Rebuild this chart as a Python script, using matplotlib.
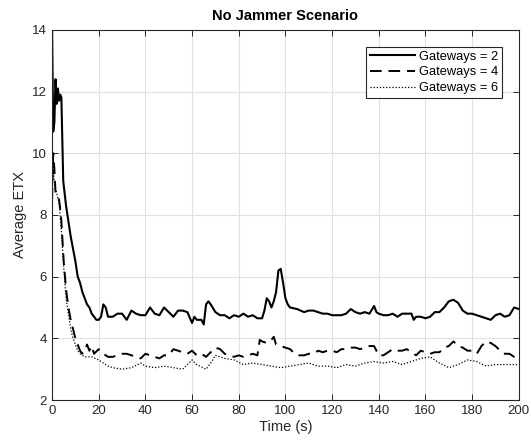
import matplotlib.pyplot as plt

plt.rcParams['font.family'] = ['Liberation Sans', 'DejaVu Sans']

# Gateways = 2 (solid)
t_gw2 = [0, 0.5, 1, 1.5, 2, 2.5, 3, 3.5, 4, 4.8, 6, 7, 8, 9, 10, 11, 12, 13, 14, 15,
         16, 17, 18, 19, 20, 21, 22, 23, 24, 26, 28, 30, 32, 34, 36, 38, 40, 42, 44,
         46, 48, 50, 52, 54, 56, 58, 60, 61, 62, 64, 65, 66, 67, 68, 70, 72, 74, 76,
         78, 80, 82, 84, 86, 88, 90, 91, 92, 93, 94, 95, 96, 97, 98, 99, 100, 101,
         102, 105, 108, 110, 112, 114, 116, 118, 120, 122, 124, 126, 128, 130, 132,
         134, 136, 138, 139, 140, 142, 144, 146, 148, 150, 152, 154, 155, 156, 158,
         160, 162, 164, 166, 168, 170, 172, 174, 176, 178, 180, 182, 184, 186, 188,
         190, 192, 194, 196, 198, 200]
etx_gw2 = [14.2, 10.7, 11.0, 12.4, 11.6, 12.1, 11.7, 11.9, 11.8, 9.1, 8.3, 7.8, 7.3,
           6.9, 6.5, 6.0, 5.8, 5.5, 5.3, 5.1, 5.0, 4.8, 4.7, 4.6, 4.6, 4.7, 5.1, 5.0,
           4.7, 4.7, 4.8, 4.8, 4.6, 4.9, 4.8, 4.75, 4.75, 5.0, 4.8, 4.75, 5.0, 4.85,
           4.7, 4.9, 4.9, 4.85, 4.5, 4.7, 4.6, 4.6, 4.45, 5.1, 5.2, 5.1, 4.85, 4.75,
           4.75, 4.65, 4.75, 4.7, 4.8, 4.7, 4.75, 4.65, 4.65, 4.9, 5.3, 5.2, 5.0,
           5.2, 5.5, 6.2, 6.25, 5.8, 5.3, 5.1, 5.0, 4.95, 4.85, 4.9, 4.9, 4.85, 4.8,
           4.8, 4.75, 4.75, 4.75, 4.8, 4.95, 4.85, 4.8, 4.85, 4.8, 5.05, 4.85, 4.8,
           4.75, 4.75, 4.8, 4.7, 4.8, 4.8, 4.8, 4.6, 4.7, 4.7, 4.65, 4.7, 4.85, 4.85,
           5.0, 5.2, 5.25, 5.15, 4.9, 4.8, 4.8, 4.75, 4.7, 4.65, 4.6, 4.75, 4.8, 4.7,
           4.75, 5.0, 4.95]

# Gateways = 4 (dashed)
t_gw4 = [0, 0.5, 1, 1.5, 2, 3, 3.5, 4, 5, 6, 7, 8, 9, 10, 11, 12, 13, 14, 15, 16,
         17, 18, 20, 22, 24, 26, 28, 30, 32, 34, 36, 38, 40, 42, 44, 46, 48, 50, 52,
         54, 56, 58, 60, 62, 64, 66, 68, 70, 72, 74, 76, 78, 80, 82, 84, 86, 88, 89,
         90, 92, 94, 95, 96, 98, 100, 102, 104, 106, 108, 110, 112, 114, 116, 118,
         120, 122, 124, 126, 128, 130, 132, 134, 136, 138, 140, 142, 144, 146, 148,
         150, 152, 154, 156, 158, 160, 162, 164, 166, 168, 170, 172, 174, 176, 178,
         180, 182, 184, 186, 188, 190, 192, 194, 196, 198, 200]
etx_gw4 = [8.5, 10.0, 9.5, 8.7, 8.6, 8.5, 8.2, 7.8, 6.5, 5.6, 5.0, 4.6, 4.3, 4.0, 3.8,
           3.6, 3.5, 3.6, 3.8, 3.6, 3.75, 3.5, 3.65, 3.5, 3.4, 3.4, 3.45, 3.5, 3.5,
           3.45, 3.4, 3.35, 3.5, 3.45, 3.4, 3.35, 3.45, 3.45, 3.65, 3.6, 3.55, 3.5,
           3.6, 3.45, 3.5, 3.4, 3.55, 3.7, 3.65, 3.5, 3.45, 3.4, 3.45, 3.4, 3.45, 3.5,
           3.45, 3.95, 3.9, 3.85, 3.95, 4.05, 3.8, 3.75, 3.7, 3.65, 3.5, 3.45, 3.45,
           3.5, 3.5, 3.6, 3.55, 3.6, 3.6, 3.55, 3.65, 3.65, 3.7, 3.7, 3.65, 3.7,
           3.75, 3.75, 3.45, 3.45, 3.55, 3.65, 3.6, 3.6, 3.65, 3.55, 3.45, 3.6, 3.55,
           3.5, 3.55, 3.55, 3.7, 3.75, 3.9, 3.75, 3.7, 3.6, 3.6, 3.5, 3.75, 3.9,
           3.85, 3.75, 3.6, 3.5, 3.5, 3.4, 3.4]

# Gateways = 6 (dotted)
t_gw6 = [0, 0.5, 1, 2, 3, 4, 5, 6, 7, 8, 9, 10, 11, 12, 13, 14, 15, 17, 20, 22, 24,
         26, 30, 34, 38, 40, 44, 48, 52, 56, 60, 62, 66, 68, 70, 74, 78, 82, 86, 90,
         94, 98, 102, 106, 110, 114, 118, 122, 126, 130, 134, 138, 142, 146, 150,
         154, 158, 162, 166, 170, 174, 178, 182, 186, 190, 194, 198, 200]
etx_gw6 = [8.6, 9.8, 9.0, 8.7, 8.4, 7.5, 6.3, 5.3, 4.8, 4.3, 4.0, 3.8, 3.6, 3.5,
           3.45, 3.4, 3.4, 3.4, 3.3, 3.2, 3.1, 3.05, 3.0, 3.05, 3.2, 3.1, 3.05, 3.1,
           3.05, 3.0, 3.3, 3.15, 3.0, 3.2, 3.45, 3.35, 3.3, 3.15, 3.2, 3.15, 3.1,
           3.05, 3.1, 3.15, 3.2, 3.1, 3.1, 3.05, 3.15, 3.1, 3.2, 3.25, 3.2, 3.25,
           3.15, 3.25, 3.35, 3.4, 3.2, 3.05, 3.15, 3.3, 3.25, 3.1, 3.15, 3.15, 3.15,
           3.15]

fig = plt.figure(figsize=(5.31, 4.45), dpi=100)
ax = fig.add_axes([0.098, 0.101, 0.879, 0.832])

ax.plot(t_gw2, etx_gw2, color='black', linestyle='-', linewidth=1.5, label='Gateways = 2')
ax.plot(t_gw4, etx_gw4, color='black', linestyle=(0, (6, 3.5)), linewidth=1.4, label='Gateways = 4')
ax.plot(t_gw6, etx_gw6, color='black', linestyle=(0, (1, 1.5)), linewidth=0.9, label='Gateways = 6')

ax.set_xlim(0, 200)
ax.set_ylim(2, 14)
ax.set_xticks(range(0, 201, 20))
ax.set_yticks(range(2, 15, 2))
ax.grid(True, color='#e0e0e0', linewidth=0.8)
ax.set_axisbelow(True)
ax.tick_params(direction='in', top=True, right=True, labelsize=9.5,
               labelcolor='#262626', color='#262626', length=4, width=0.7)
for s in ax.spines.values():
    s.set_color('#262626')
    s.set_linewidth(0.8)

ax.set_xlabel('Time (s)', fontsize=10.5, color='#262626', labelpad=2)
ax.set_ylabel('Average ETX', fontsize=10.5, color='#262626', labelpad=4)
ax.set_title('No Jammer Scenario', fontsize=10.5, fontweight='bold', pad=7)

leg = ax.legend(loc='upper right', fontsize=9.3, handlelength=3.5, fancybox=False,
                framealpha=1, edgecolor='#262626', borderaxespad=1.3,
                labelspacing=0.3, handletextpad=0.3, borderpad=0.3)
leg.get_frame().set_linewidth(0.8)

fig.savefig('out.png', dpi=100)
